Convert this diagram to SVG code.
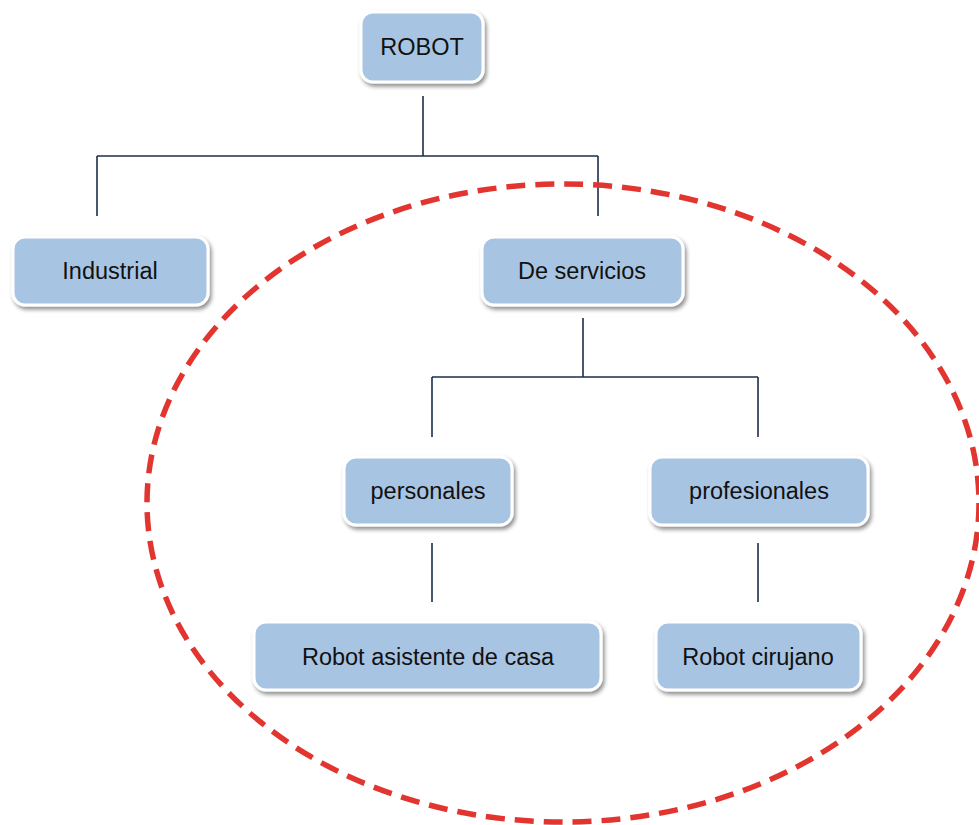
<svg xmlns="http://www.w3.org/2000/svg" width="979" height="825" viewBox="0 0 979 825">
<defs>
<filter id="sh" x="-10%" y="-20%" width="130%" height="150%">
<feGaussianBlur in="SourceAlpha" stdDeviation="2"/>
<feOffset dx="2" dy="3"/>
<feComponentTransfer><feFuncA type="linear" slope="0.45"/></feComponentTransfer>
<feMerge><feMergeNode/><feMergeNode in="SourceGraphic"/></feMerge>
</filter>
</defs>
<style>
.box{fill:#a8c4e3;stroke:#ffffff;stroke-width:3;filter:url(#sh)}
.lbl{font-family:"Liberation Sans",Arial,sans-serif;font-size:23.5px;fill:#111111;text-anchor:middle;dominant-baseline:central}
.con{fill:none;stroke:#1c2e4a;stroke-width:1.6}
.oval{fill:none;stroke:#e23530;stroke-width:5.5;stroke-dasharray:19 10}
</style>
<rect width="979" height="825" fill="#ffffff"/>
<g id="connectors">
<path class="con" d="M423 96V156M97 156H598M97 156V216M598 156V216"/>
<path class="con" d="M583 318V377M432 377H758M432 377V437M758 377V437"/>
<path class="con" d="M432 543V602M758 543V602"/>
</g>
<g id="n-robot"><rect class="box" x="361" y="12" width="122" height="70" rx="12"/><text class="lbl" x="422" y="47">ROBOT</text></g>
<g id="n-industrial"><rect class="box" x="13" y="237" width="195" height="68" rx="12"/><text class="lbl" x="110" y="271">Industrial</text></g>
<g id="n-servicios"><rect class="box" x="482" y="237" width="201" height="68" rx="12"/><text class="lbl" x="582" y="271">De servicios</text></g>
<g id="n-personales"><rect class="box" x="344" y="457" width="168" height="68" rx="12"/><text class="lbl" x="428" y="491">personales</text></g>
<g id="n-profesionales"><rect class="box" x="650" y="457" width="218" height="68" rx="12"/><text class="lbl" x="759" y="491">profesionales</text></g>
<g id="n-asistente"><rect class="box" x="254" y="622" width="347" height="68" rx="12"/><text class="lbl" x="428" y="657">Robot asistente de casa</text></g>
<g id="n-cirujano"><rect class="box" x="656" y="622" width="205" height="68" rx="12"/><text class="lbl" x="758" y="657">Robot cirujano</text></g>
<ellipse class="oval" cx="563" cy="503" rx="416" ry="319"/>
</svg>
